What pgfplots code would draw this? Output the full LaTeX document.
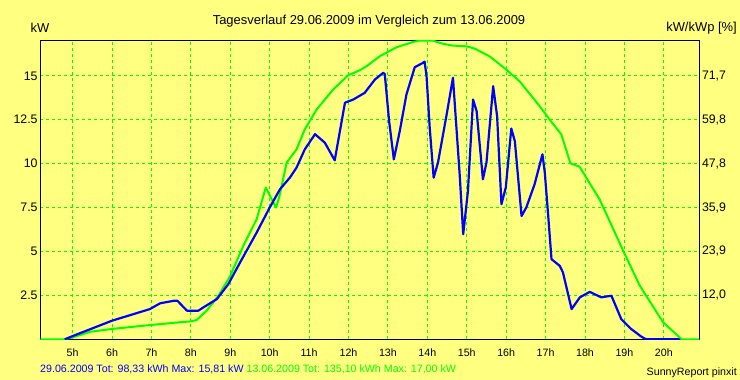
\documentclass[border=0pt]{standalone}
\usepackage{fontspec}
\setmainfont{Liberation Sans}
\usepackage{pgfplots}
\pgfplotsset{compat=1.18}
\definecolor{bg}{RGB}{255,255,128}
\definecolor{gr}{RGB}{0,255,0}
\definecolor{bl}{RGB}{0,0,255}
\pgfplotstableread{
h kw
4.18 0
4.80 0
5.00 0.11
5.45 0.43
6.00 0.59
6.96 0.81
7.72 0.97
8.00 1.02
8.15 1.10
8.40 1.63
8.70 2.48
9.00 3.61
9.33 5.32
9.67 6.84
9.90 8.64
10.16 7.50
10.24 8.07
10.43 10.06
10.68 10.81
10.89 11.95
11.19 13.08
11.61 14.22
11.99 15.03
12.29 15.32
12.46 15.55
12.79 16.11
13.22 16.63
13.64 16.93
13.80 17.00
14.15 17.00
14.40 16.82
14.65 16.72
14.99 16.68
15.20 16.55
15.58 16.11
16.00 15.36
16.34 14.69
16.68 13.75
16.85 13.27
17.10 12.52
17.40 11.66
17.63 10.02
17.86 9.83
18.37 7.97
18.99 4.94
19.39 3.05
19.98 0.97
20.40 0.11
20.45 0
20.90 0
}\green
\pgfplotstableread{
h kw
4.80 0
5.02 0.20
6.00 1.06
6.96 1.72
7.22 2.05
7.56 2.19
7.66 2.19
7.90 1.63
8.19 1.63
8.32 1.82
8.66 2.29
8.95 3.14
9.25 4.38
9.67 6.08
10.00 7.50
10.26 8.54
10.51 9.20
10.68 9.77
10.89 10.81
11.15 11.68
11.40 11.19
11.65 10.19
11.91 13.47
12.12 13.65
12.41 14.03
12.67 14.79
12.88 15.17
12.92 15.10
13.03 12.42
13.15 10.24
13.30 11.85
13.47 13.94
13.68 15.49
13.89 15.74
13.93 15.81
13.98 14.98
14.06 12.05
14.16 9.20
14.27 10.06
14.49 12.80
14.65 14.89
14.82 9.39
14.91 5.98
15.03 8.44
15.16 13.65
15.25 12.99
15.41 9.11
15.50 10.06
15.67 14.41
15.77 12.70
15.88 7.69
15.99 8.64
16.13 12.00
16.22 11.28
16.39 7.02
16.51 7.50
16.72 8.82
16.92 10.53
16.98 9.49
17.06 7.22
17.15 4.56
17.36 4.18
17.44 3.81
17.66 1.72
17.87 2.39
18.12 2.70
18.41 2.39
18.67 2.48
18.92 1.15
19.17 0.59
19.43 0.15
19.55 0
20.40 0
}\blue
\begin{document}
\fontsize{10.7}{12}\selectfont
\begin{tikzpicture}
\fill[bg] (-40.3bp,-40.7bp) rectangle (699.7bp,339.3bp);
\useasboundingbox (-40.3bp,-40.7bp) rectangle (699.7bp,339.3bp);
\begin{axis}[at={(0,0)}, anchor=south west, scale only axis,
  width=659bp, height=298.6bp,
  xmin=4.18, xmax=20.9, ymin=0, ymax=17,
  xtick={5,6,7,8,9,10,11,12,13,14,15,16,17,18,19,20},
  xticklabels={5h,6h,7h,8h,9h,10h,11h,12h,13h,14h,15h,16h,17h,18h,19h,20h},
  ytick={2.5,5,7.5,10,12.5,15},
  yticklabels={2.5,5,7.5,10,12.5,15},
  grid=major,
  major grid style={gr, line width=1bp, dash pattern=on 3bp off 3bp},
  major tick length=0pt,
  axis line style={black, line width=1bp},
  tick label style={font=\fontsize{10.7}{12}\selectfont, text=black},
  yticklabel style={font=\fontsize{12.4}{14}\selectfont, inner sep=2.5bp},
  xticklabel style={anchor=base, yshift=-17.4bp},
  clip=true,
]
\addplot[gr, line width=2bp, line join=round] table[x=h,y=kw]{\green};
\addplot[bl, line width=2.2bp, line join=round] table[x=h,y=kw]{\blue};
\end{axis}
\begin{axis}[at={(0,0)}, anchor=south west, scale only axis,
  width=659bp, height=298.6bp,
  xmin=4.18, xmax=20.9, ymin=0, ymax=17,
  axis x line=none, axis y line*=right,
  ytick={2.5,5,7.5,10,12.5,15},
  yticklabels={{12,0},{23,9},{35,9},{47,8},{59,8},{71,7}},
  major tick length=0pt,
  axis line style={black, line width=1bp},
  tick label style={font=\fontsize{12.4}{14}\selectfont, text=black, inner sep=2.5bp},
]
\addplot[draw=none] coordinates {(5,0)};
\end{axis}
\node[anchor=base, inner sep=0, font=\fontsize{13}{15}\selectfont] at (328.7bp,314.3bp) {Tagesverlauf 29.06.2009 im Vergleich zum 13.06.2009};
\node[anchor=base, inner sep=0, font=\fontsize{13}{15}\selectfont] at (-0.3bp,307bp) {kW};
\node[anchor=base east, inner sep=0, font=\fontsize{13}{15}\selectfont] at (696.7bp,307.6bp) {kW/kWp [\%]};
\node[anchor=base west, inner sep=0] at (-0.3bp,-33.4bp) {\textcolor{bl}{29.06.2009 Tot: 98,33 kWh Max: 15,81 kW} \textcolor{gr}{13.06.2009 Tot: 135,10 kWh Max: 17,00 kW}};
\node[anchor=base east, inner sep=0] at (696.7bp,-35.7bp) {SunnyReport pinxit};
\end{tikzpicture}
\end{document}
